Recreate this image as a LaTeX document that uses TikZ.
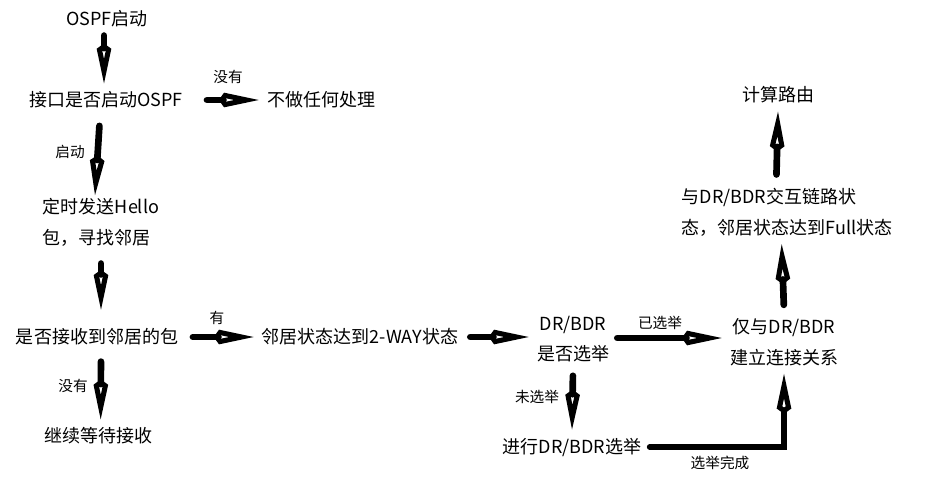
\documentclass[tikz,border=0pt]{standalone}
\usepackage{fontspec}
\setmainfont{Noto Sans CJK SC}
\usetikzlibrary{arrows.meta, positioning}
\tikzset{
  stage/.style={inner sep=6pt, align=#1, font=\fontsize{13.5pt}{23pt}\selectfont},
  stage/.default=center,
  tag/.style={inner sep=1pt, font=\fontsize{11pt}{13pt}\selectfont},
  fat/.style={line width=5pt, line cap=round,
              -{Kite[open, length=30pt, width=11pt, inset=4pt, line width=3.8pt]}},
}

\begin{document}
\begin{tikzpicture}[x=0.75pt, y=-0.75pt]
        \useasboundingbox (0,0) rectangle (930,483);
        % left column
        \node[stage] (start) at (107,19) {OSPF启动};
        \node[stage] (iface) at (106,100) {接口是否启动OSPF};
        \node[stage] (noop) at (321,100) {不做任何处理};
        \node[stage=left] (hello) at (101,222) {定时发送Hello\\包，寻找邻居};
        \node[stage] (recv) at (97,337) {是否接收到邻居的包};
        \node[stage] (wait) at (98,436) {继续等待接收};
        \node[stage] (twoway) at (360,337) {邻居状态达到2-WAY状态};
        % right part
        \node[stage] (drq) at (573,339) {DR/BDR\\是否选举};
        \node[stage] (elect) at (572,447) {进行DR/BDR选举};
        \node[stage] (only) at (784,342) {仅与DR/BDR\\建立连接关系};
        \node[stage=left] (full) at (787,212) {与DR/BDR交互链路状\\态，邻居状态达到Full状态};
        \node[stage] (route) at (778,95) {计算路由};

        \draw[fat] (start.south) ++(-3,0) -- ([xshift=-1.5pt]iface.north);
        \draw[fat, shorten <=12pt] (iface.east) -- (noop.west);
        \draw[fat, shorten <=7pt] (iface.south) ++(-6,0) -- ([xshift=-4.5pt, yshift=-4pt]hello.north);
        \draw[fat, shorten <=7pt, shorten >=8pt] (hello.south) -- (hello.south |- recv.north);
        \draw[fat, shorten <=5pt] (recv.east) -- (twoway.west);
        \draw[fat, shorten <=6pt] (recv.south) ++(4,0) -- ([xshift=2pt]wait.north);
        \draw[fat, shorten <=3pt] (twoway.east) -- (drq.west |- twoway.east);
        \draw[fat] (drq.east |- only.west) ++(0,-4) -- ([yshift=3pt]only.west);
        \draw[fat, shorten <=4pt] (drq.south) -- (elect.north);
        \draw[fat, line width=4pt] (elect.east) -| (only.south);
        \draw[fat, shorten <=4pt] (only.north) -- ([xshift=-4pt]full.south);
        \draw[fat, shorten <=4pt] ([xshift=-8pt]full.north) -- (route.south);

        % labels
        \node[tag] (l1) at (228,77) {没有};
        \node[tag] (l2) at (70,152) {启动};
        \node[tag] (l3) at (217,318) {有};
        \node[tag] (l4) at (73,386) {没有};
        \node[tag] (l5) at (660,323) {已选举};
        \node[tag] (l6) at (537,397) {未选举};
        \node[tag] (l7) at (720,463) {选举完成};
\end{tikzpicture}
\end{document}
